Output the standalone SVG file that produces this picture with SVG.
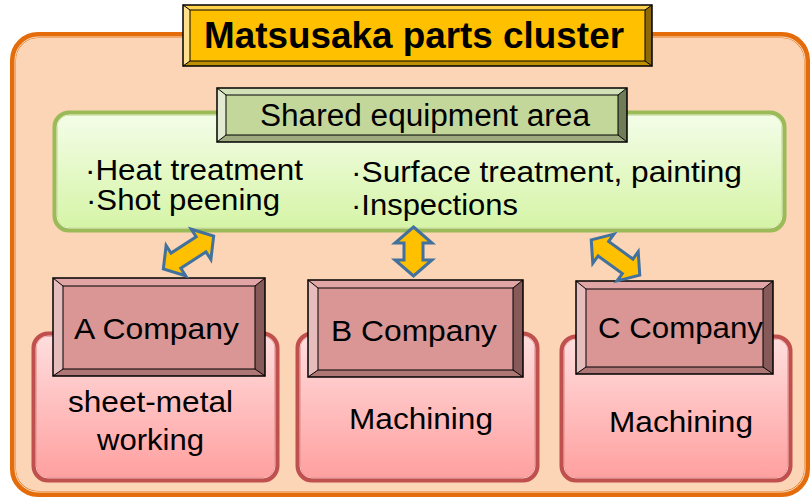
<svg xmlns="http://www.w3.org/2000/svg" width="811" height="500" viewBox="0 0 811 500">
<defs>
<linearGradient id="gPink" x1="0" y1="0" x2="0" y2="1">
<stop offset="0" stop-color="#FFDEDE"/><stop offset="1" stop-color="#FF9F9F"/>
</linearGradient>
<linearGradient id="gGreen" x1="0" y1="0" x2="0" y2="1">
<stop offset="0" stop-color="#F4FDE9"/><stop offset="1" stop-color="#D5F4A5"/>
</linearGradient>
<path id="arr" d="M-30,0 L-15,-18 L-15,-9 L15,-9 L15,-18 L30,0 L15,18 L15,9 L-15,9 L-15,18 Z"/>
</defs>
<style>
text{font-family:"Liberation Sans",Arial,sans-serif;fill:#000}
.t30{font-size:30px}
.t29{font-size:29px}
.edge{stroke:#000;stroke-width:1.5}
.bev{stroke:#000;stroke-width:1;stroke-linejoin:miter}
.pink{fill:url(#gPink);stroke:#C0504D;stroke-width:5}
.pinkIn{fill:none;stroke:#F6BEBE;stroke-width:1}
.arrow{fill:#FFC000;stroke:#41719C;stroke-width:3;stroke-linejoin:miter}
.cFill{fill:#D99694}.cL{fill:#E6BDBC}.cT{fill:#E0A5A4}.cR{fill:#865A59}.cB{fill:#AE7675}
</style>

<g id="cluster">
<rect x="13" y="35" width="794" height="459" rx="25" fill="#FBD5B5" stroke="#E46C0A" stroke-width="6"/>
<rect x="15" y="37" width="790" height="455" rx="23" fill="none" stroke="#FCE3CF" stroke-width="1"/>
</g>

<g id="title">
<rect x="183" y="5" width="469" height="61" fill="#FFC000"/>
<polygon points="183,5 190,10 190,61 183,66" fill="#FFE08C"/>
<polygon points="183,5 652,5 645,10 190,10" fill="#FFD24D"/>
<polygon points="652,5 652,66 645,61 645,10" fill="#8C6A0A"/>
<polygon points="183,66 190,61 645,61 652,66" fill="#BF9000"/>
<rect x="190" y="10" width="455" height="51" fill="none" class="bev"/>
<path d="M183,5 L190,10 M652,5 L645,10 M183,66 L190,61 M652,66 L645,61" class="bev"/>
<rect x="183" y="5" width="469" height="61" fill="none" class="edge"/>
<text x="414" y="48" text-anchor="middle" font-weight="bold" font-size="37" textLength="420" lengthAdjust="spacingAndGlyphs">Matsusaka parts cluster</text>
</g>

<g id="shared-area">
<rect x="55" y="113" width="729" height="117" rx="14" fill="url(#gGreen)" stroke="#9BBB59" stroke-width="5"/>
<rect x="57" y="115" width="725" height="113" rx="12" fill="none" stroke="#E6F2CF" stroke-width="1"/>
<text x="85" y="180" class="t29" textLength="218" lengthAdjust="spacingAndGlyphs">·Heat treatment</text>
<text x="86" y="210" class="t29" textLength="194" lengthAdjust="spacingAndGlyphs">·Shot peening</text>
<text x="351" y="182" class="t29" textLength="391" lengthAdjust="spacingAndGlyphs">·Surface treatment, painting</text>
<text x="351" y="215" class="t29" textLength="167" lengthAdjust="spacingAndGlyphs">·Inspections</text>
</g>

<g id="shared-label">
<rect x="217" y="88" width="410" height="54" fill="#C4D79B"/>
<polygon points="217,88 226,95 226,135 217,142" fill="#E2EBD2"/>
<polygon points="217,88 627,88 618,95 226,95" fill="#D3E1B8"/>
<polygon points="627,88 627,142 618,135 618,95" fill="#707C58"/>
<polygon points="217,142 226,135 618,135 627,142" fill="#9DAB7E"/>
<rect x="226" y="95" width="392" height="40" fill="none" class="bev"/>
<path d="M217,88 L226,95 M627,88 L618,95 M217,142 L226,135 M627,142 L618,135" class="bev"/>
<rect x="217" y="88" width="410" height="54" fill="none" class="edge"/>
<text x="425" y="126" text-anchor="middle" font-size="31" textLength="330" lengthAdjust="spacingAndGlyphs">Shared equipment area</text>
</g>

<g id="a-company">
<rect x="34" y="334" width="243" height="146" rx="14" class="pink"/>
<rect x="36" y="336" width="239" height="142" rx="12" class="pinkIn"/>
<text x="150.5" y="412" text-anchor="middle" class="t30" textLength="165" lengthAdjust="spacingAndGlyphs">sheet-metal</text>
<text x="150.5" y="450" text-anchor="middle" class="t30" textLength="107" lengthAdjust="spacingAndGlyphs">working</text>
<rect x="53" y="278" width="212" height="98" class="cFill"/>
<polygon points="53,278 63,286 63,369 53,376" class="cL"/>
<polygon points="53,278 265,278 255,286 63,286" class="cT"/>
<polygon points="265,278 265,376 255,369 255,286" class="cR"/>
<polygon points="53,376 63,369 255,369 265,376" class="cB"/>
<rect x="63" y="286" width="192" height="83" fill="none" class="bev"/>
<path d="M53,278 L63,286 M265,278 L255,286 M53,376 L63,369 M265,376 L255,369" class="bev"/>
<rect x="53" y="278" width="212" height="98" fill="none" class="edge"/>
<text x="74" y="339" class="t30" textLength="165" lengthAdjust="spacingAndGlyphs">A Company</text>
</g>

<g id="b-company">
<rect x="298" y="334" width="239" height="146" rx="14" class="pink"/>
<rect x="300" y="336" width="235" height="142" rx="12" class="pinkIn"/>
<text x="421" y="429" text-anchor="middle" class="t30" textLength="144" lengthAdjust="spacingAndGlyphs">Machining</text>
<rect x="308" y="280" width="215" height="97" class="cFill"/>
<polygon points="308,280 318,288 318,370 308,377" class="cL"/>
<polygon points="308,280 523,280 513,288 318,288" class="cT"/>
<polygon points="523,280 523,377 513,370 513,288" class="cR"/>
<polygon points="308,377 318,370 513,370 523,377" class="cB"/>
<rect x="318" y="288" width="195" height="82" fill="none" class="bev"/>
<path d="M308,280 L318,288 M523,280 L513,288 M308,377 L318,370 M523,377 L513,370" class="bev"/>
<rect x="308" y="280" width="215" height="97" fill="none" class="edge"/>
<text x="331" y="341" class="t30" textLength="166" lengthAdjust="spacingAndGlyphs">B Company</text>
</g>

<g id="c-company">
<rect x="562" y="337" width="228" height="143" rx="14" class="pink"/>
<rect x="564" y="339" width="224" height="139" rx="12" class="pinkIn"/>
<text x="681" y="432" text-anchor="middle" class="t30" textLength="144" lengthAdjust="spacingAndGlyphs">Machining</text>
<rect x="576" y="281" width="197" height="93" class="cFill"/>
<polygon points="576,281 586,289 586,367 576,374" class="cL"/>
<polygon points="576,281 773,281 763,289 586,289" class="cT"/>
<polygon points="773,281 773,374 763,367 763,289" class="cR"/>
<polygon points="576,374 586,367 763,367 773,374" class="cB"/>
<rect x="586" y="289" width="177" height="78" fill="none" class="bev"/>
<path d="M576,281 L586,289 M773,281 L763,289 M576,374 L586,367 M773,374 L763,367" class="bev"/>
<rect x="576" y="281" width="197" height="93" fill="none" class="edge"/>
<text x="598" y="338" class="t30" textLength="165" lengthAdjust="spacingAndGlyphs">C Company</text>
</g>

<g id="connectors">
<use href="#arr" class="arrow" transform="translate(188.5,252.5) rotate(-33)"/>
<path d="M413.5,227 L432,243 L423,243 L423,260 L432,260 L413.5,276 L395,260 L404,260 L404,243 L395,243 Z" class="arrow"/>
<use href="#arr" class="arrow" transform="translate(615.5,257.5) rotate(36)"/>
</g>
</svg>
